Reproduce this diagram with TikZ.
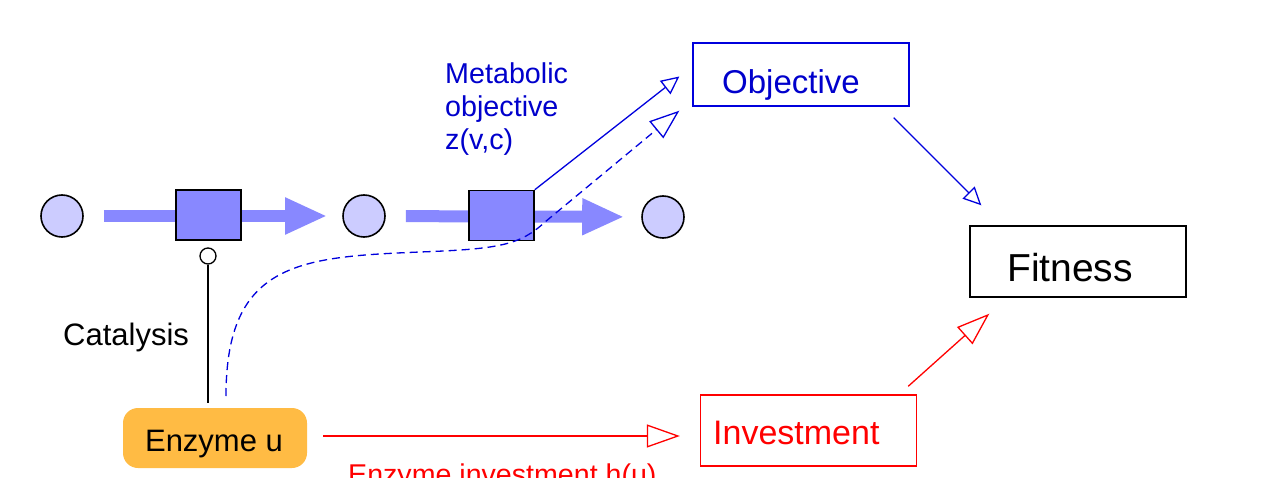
\documentclass[tikz,border=0pt]{standalone}
\usepackage{fontspec}
\setmainfont{Liberation Sans}
\usetikzlibrary{arrows.meta}
\definecolor{metc}{HTML}{CCCCFF}
\definecolor{rxnc}{HTML}{8888FF}
\definecolor{objc}{HTML}{0000CC}
\definecolor{objl}{HTML}{0000DD}
\definecolor{enzc}{HTML}{FFBB44}
\definecolor{invc}{HTML}{FF0000}
\begin{document}
\begin{tikzpicture}[x=1pt,y=-1pt,
  metab/.style={circle,draw=black,fill=metc,line width=1.6pt,minimum size=42pt,inner sep=0pt},
  rxnbox/.style={rectangle,draw=black,fill=rxnc,line width=1.5pt,minimum width=65pt,minimum height=50pt,inner sep=0pt},
  flux/.style={draw=rxnc,line width=12pt,-{Triangle[length=42pt,width=34pt]}},
  bluetip/.style={draw=objl,line width=1.3pt,-{Triangle[open,length=18pt,width=17pt]}},
  bigbluetip/.style={draw=objl,line width=1.3pt,-{Triangle[open,length=30pt,width=22pt]}},
  redtip/.style={draw=invc,line width=1.3pt,-{Triangle[open,length=33pt,width=23pt]}},
  bigbox/.style={rectangle,line width=1.4pt,minimum width=216pt,inner sep=0pt},
  lbl/.style={inner sep=0pt,anchor=base west}]
\useasboundingbox (0,0) rectangle (1263,478);
\clip (0,0) rectangle (1263,478);

% metabolites
\node[metab] (c1) at (62,216) {};
\node[metab] (c2) at (364,216) {};
\node[metab] (c3) at (663,217) {};
% flux arrows
\draw[flux,shorten <=20pt,shorten >=15pt] (c1) -- (c2);
\draw[flux,shorten <=20pt,shorten >=17pt] (c2) -- (c3);
% reactions
\node[rxnbox] (r1) at (208.5,215) {};
\node[rxnbox] (r2) at (501.5,215.5) {};

% boxes
\node[bigbox,draw=objl,minimum height=63pt] (obj) at (801,74.5) {};
\node[lbl,text=objc,font=\fontsize{33}{40}\selectfont] (objt) at (722,94) {Objective};
\node[bigbox,draw=black,minimum height=71pt] (fit) at (1078,261.5) {};
\node[lbl,text=black,font=\fontsize{39}{46}\selectfont] (fitt) at (1007,281) {Fitness};
\node[bigbox,draw=invc,minimum height=71pt] (inv) at (808.5,430.5) {};
\node[lbl,text=invc,font=\fontsize{34}{40}\selectfont] (invt) at (713,444) {Investment};

% enzyme
\node[rectangle,rounded corners=15pt,fill=enzc,minimum width=184pt,minimum height=60pt,inner sep=0pt] (enz) at (215,438) {};
\node[inner sep=0pt,anchor=base,font=\fontsize{31}{37}\selectfont] (enzt) at (214,451) {Enzyme u};

% catalysis
\node[circle,draw=black,fill=white,line width=1.3pt,minimum size=16pt,inner sep=0pt] (cat) at (208,256) {};
\draw[line width=1.3pt,shorten >=5pt] (cat.south) -- (cat |- enz.north);
\node[lbl,font=\fontsize{31}{37}\selectfont] (catl) at (63,345) {Catalysis};

% metabolic objective label
\node[lbl,text=objc,font=\fontsize{28.7}{33}\selectfont] (mo1) at (445,84) {Metabolic};
\node[lbl,text=objc,font=\fontsize{28.7}{33}\selectfont] (mo2) at (445,117) {objective};
\node[lbl,text=objc,font=\fontsize{28.7}{33}\selectfont] (mo3) at (445,150) {z(v,c)};

% connectors to objective
\coordinate (soltip) at ([shift={(-13,2)}]obj.west);
\coordinate (dashtip) at ([shift={(-13,4)}]obj.south west);
\coordinate (dstart) at (226,396);
\draw[bluetip] (r2.north east) -- (soltip);
\draw[bigbluetip,dash pattern=on 8pt off 5pt] (dstart) .. controls (226,262) and (300,257) .. (420,252)
   .. controls (500,249) and (520,245) .. (545,222) -- (dashtip);

% objective -> fitness, investment -> fitness
\draw[bluetip] ([shift={(-16,11)}]obj.south east) -- ([shift={(12,-20)}]fit.north west);
\draw[redtip] ([shift={(-9,-8)}]inv.north east) -- ([shift={(20,16)}]fit.south west);

% enzyme -> investment
\draw[redtip,shorten <=16pt,shorten >=20pt] ([yshift=2pt]enz.east) -- ([yshift=2pt]enz.east -| inv.west);
\node[lbl,text=invc,font=\fontsize{28.6}{34}\selectfont] (invl) at (348,484) {Enzyme investment h(u)};
\end{tikzpicture}
\end{document}
